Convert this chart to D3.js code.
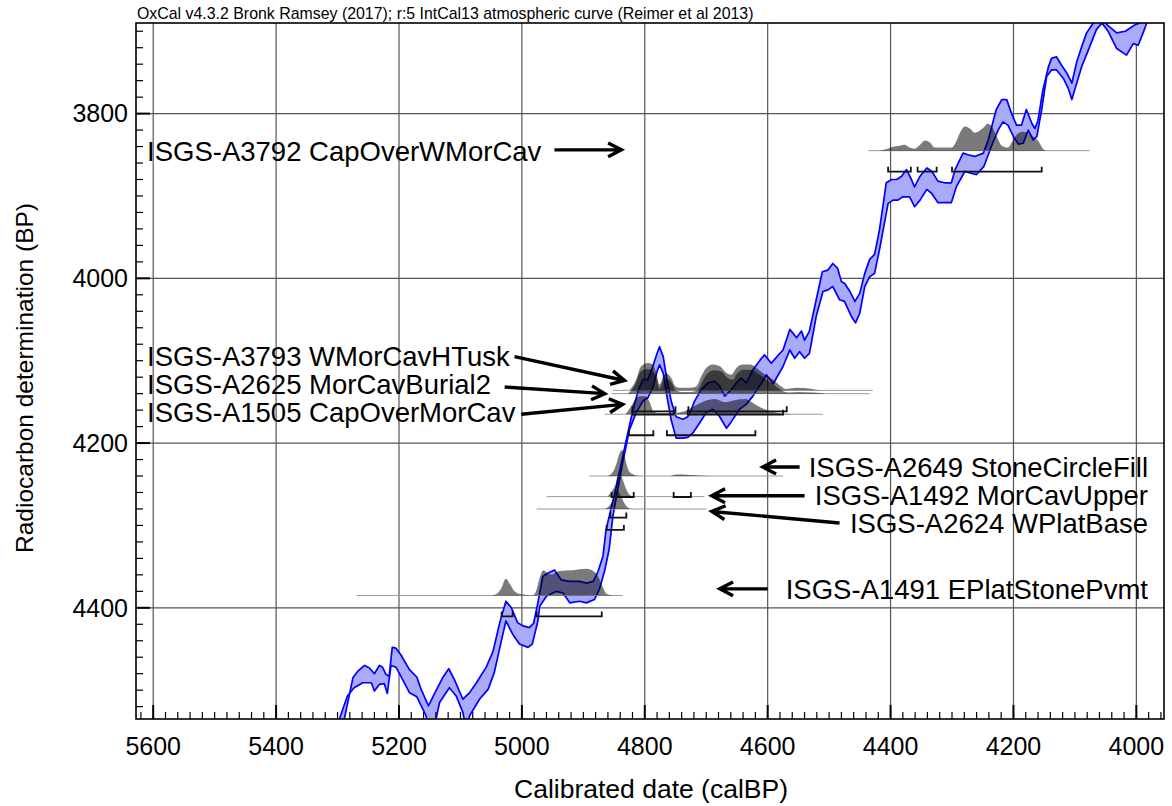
<!DOCTYPE html>
<html><head><meta charset="utf-8">
<script src="https://cdn.jsdelivr.net/npm/d3@7"></script>
<style>body{margin:0;background:#fff} svg{display:block} text{font-family:"Liberation Sans",Arial,Helvetica,sans-serif}</style>
</head><body><svg id="c" width="1172" height="806"></svg>
<script>
// ---------------- data ----------------
const chartTitle = "OxCal v4.3.2 Bronk Ramsey (2017); r:5 IntCal13 atmospheric curve (Reimer et al 2013)";
const xTitle = "Calibrated date (calBP)";
const yTitle = "Radiocarbon determination (BP)";
const xMajorTicks = [5600, 5400, 5200, 5000, 4800, 4600, 4400, 4200, 4000];
const yMajorTicks = [3800, 4000, 4200, 4400];

// IntCal13 1-sigma band, upper edge (younger BP) and lower edge, [calBP, BP]
const curveUpper = [[5293,4550],[5289,4535],[5275,4485],[5267,4477],[5256,4470],[5248,4473],[5240,4480],[5232,4470],[5227,4472],[5221,4481],[5216,4483],[5211,4448],[5205,4449],[5197,4457],[5183,4475],[5171,4484],[5164,4499],[5152,4519],[5140,4501],[5129,4485],[5119,4474],[5110,4487],[5096,4511],[5085,4503],[5074,4491],[5058,4472],[5047,4453],[5036,4418],[5026,4392],[5017,4400],[5007,4418],[4998,4422],[4988,4424],[4981,4419],[4974,4394],[4966,4362],[4958,4358],[4947,4354],[4936,4366],[4922,4368],[4906,4368],[4895,4370],[4884,4368],[4876,4356],[4868,4337],[4863,4305],[4846,4252],[4830,4196],[4819,4159],[4811,4137],[4803,4123],[4795,4123],[4787,4107],[4780,4091],[4776,4083],[4770,4095],[4764,4123],[4757,4149],[4749,4168],[4738,4171],[4730,4168],[4724,4159],[4719,4149],[4708,4135],[4697,4127],[4686,4125],[4678,4131],[4670,4143],[4659,4135],[4651,4127],[4643,4121],[4635,4127],[4624,4111],[4610,4097],[4605,4093],[4594,4103],[4580,4091],[4575,4087],[4564,4062],[4553,4072],[4545,4064],[4540,4075],[4532,4064],[4521,4026],[4511,3992],[4502,3990],[4494,3982],[4486,3988],[4480,4004],[4475,4006],[4466,4016],[4458,4028],[4450,4018],[4442,3994],[4434,3977],[4426,3971],[4418,3941],[4407,3884],[4398,3880],[4390,3880],[4382,3876],[4374,3868],[4366,3880],[4361,3889],[4352,3876],[4341,3866],[4333,3870],[4323,3882],[4312,3884],[4301,3884],[4295,3868],[4282,3848],[4274,3850],[4263,3852],[4249,3848],[4241,3832],[4228,3795],[4219,3783],[4211,3783],[4203,3800],[4195,3814],[4187,3814],[4179,3795],[4170,3812],[4165,3818],[4160,3808],[4152,3771],[4143,3743],[4138,3733],[4130,3731],[4122,3741],[4113,3751],[4105,3763],[4097,3737],[4089,3719],[4081,3702],[4070,3690],[4062,3674],[4048,3692],[4032,3702],[4018,3700],[4002,3692],[3994,3690],[3986,3674],[3953,3660]];
const curveLower = [[5300,4548],[5297,4535],[5284,4507],[5273,4497],[5259,4491],[5245,4491],[5240,4501],[5232,4493],[5224,4492],[5219,4504],[5213,4470],[5205,4472],[5197,4483],[5183,4503],[5171,4508],[5156,4531],[5147,4560],[5134,4515],[5118,4497],[5107,4507],[5096,4527],[5091,4548],[5085,4531],[5069,4511],[5055,4499],[5045,4479],[5034,4442],[5026,4416],[5015,4432],[5004,4444],[4990,4448],[4983,4444],[4974,4416],[4971,4398],[4960,4386],[4944,4380],[4933,4382],[4922,4394],[4906,4392],[4895,4394],[4882,4390],[4874,4378],[4865,4354],[4858,4329],[4852,4289],[4836,4224],[4825,4184],[4814,4163],[4803,4149],[4795,4145],[4787,4133],[4780,4113],[4776,4105],[4770,4115],[4764,4143],[4757,4172],[4749,4194],[4738,4194],[4730,4193],[4722,4188],[4711,4176],[4700,4163],[4689,4159],[4678,4168],[4667,4182],[4659,4174],[4646,4159],[4635,4153],[4624,4143],[4610,4127],[4602,4117],[4591,4128],[4575,4107],[4564,4087],[4556,4097],[4548,4089],[4540,4097],[4532,4091],[4521,4046],[4510,4016],[4502,4014],[4494,4010],[4483,4026],[4475,4028],[4464,4046],[4457,4054],[4450,4042],[4442,4010],[4434,3998],[4426,3994],[4418,3965],[4404,3909],[4396,3905],[4388,3905],[4380,3901],[4369,3901],[4361,3913],[4352,3905],[4341,3892],[4333,3897],[4323,3908],[4301,3908],[4293,3889],[4279,3870],[4271,3872],[4260,3874],[4248,3864],[4236,3840],[4225,3820],[4217,3810],[4209,3814],[4200,3828],[4192,3837],[4184,3836],[4176,3820],[4168,3832],[4162,3828],[4154,3795],[4146,3755],[4138,3747],[4130,3747],[4119,3757],[4111,3769],[4105,3783],[4097,3763],[4089,3743],[4076,3719],[4065,3698],[4056,3690],[4046,3700],[4032,3721],[4016,3729],[4005,3715],[3997,3717],[3989,3702],[3983,3690],[3975,3674],[3953,3660]];

// samples
const sampleNames = ["ISGS-A3792 CapOverWMorCav","ISGS-A3793 WMorCavHTusk","ISGS-A2625 MorCavBurial2","ISGS-A1505 CapOverMorCav","ISGS-A2649 StoneCircleFill","ISGS-A1492 MorCavUpper","ISGS-A2624 WPlatBase","ISGS-A1491 EPlatStonePvmt"];
const sampleBP = [3845, 4136, 4140, 4165, 4240, 4265, 4280, 4385];
const sampleSpan = [[4436,4076],[4852,4429],[4854,4434],[4865,4510],[4890,4575],[4960,4703],[4976,4699],[5269,4836]];
// calibrated probability distributions [calBP, relative probability]
const distA3792 = [[4418,0],[4409,.04],[4396,.14],[4385,.18],[4377,.21],[4369,.11],[4361,.07],[4352,.21],[4344,.36],[4336,.29],[4328,.11],[4312,.11],[4300,.11],[4294,.29],[4287,.64],[4279,.86],[4271,.79],[4263,.64],[4255,.71],[4247,.86],[4242,.96],[4235,.86],[4227,.5],[4219,.18],[4209,.11],[4201,.36],[4193,.61],[4185,.68],[4177,.64],[4168,.5],[4160,.36],[4152,.07],[4147,0]];
const distA3793 = [[4825,0],[4814,.38],[4806,.86],[4795,.98],[4787,.92],[4781,.6],[4776,.2],[4770,.5],[4765,.6],[4757,.44],[4750,.14],[4743,.09],[4727,.09],[4716,.14],[4708,.5],[4700,.8],[4689,.92],[4678,.86],[4667,.62],[4659,.56],[4651,.8],[4640,.92],[4629,.92],[4618,.8],[4608,.62],[4591,.38],[4578,.14],[4570,.05],[4553,.09],[4527,.05],[4515,0]];
const distA2625 = [[4828,0],[4816,.3],[4807,.78],[4796,.88],[4788,.84],[4781,.55],[4776,.18],[4770,.45],[4764,.55],[4756,.38],[4749,.1],[4740,.06],[4725,.06],[4714,.12],[4706,.45],[4697,.74],[4687,.84],[4676,.8],[4665,.56],[4657,.5],[4649,.74],[4638,.85],[4627,.85],[4616,.72],[4605,.55],[4589,.3],[4576,.1],[4566,.04],[4550,.06],[4525,.04],[4505,0]];
const distA1505 = [[4831,0],[4822,.29],[4815,.54],[4808,.64],[4799,.64],[4792,.43],[4786,.11],[4776,.04],[4760,.04],[4735,.11],[4719,.29],[4703,.46],[4686,.54],[4670,.43],[4654,.5],[4637,.54],[4621,.36],[4605,.18],[4589,.07],[4572,.02],[4548,0]];
const distA2649 = [[4860,0],[4852,.14],[4846,.45],[4841,.81],[4837,.93],[4833,.75],[4830,.45],[4825,.15],[4817,.04],[4808,0],[4760,0],[4748,.05],[4727,.04],[4711,.02],[4694,0]];
const distA1492 = [[4861,0],[4852,.25],[4847,.49],[4844,.79],[4840,.85],[4836,.61],[4830,.25],[4825,.07],[4817,0]];
const distA2624 = [[4867,0],[4863,.02],[4855,.2],[4849,.5],[4845,.68],[4841,.56],[4836,.32],[4829,.08],[4825,.02],[4820,0]];
const distA1491 = [[5049,0],[5042,.04],[5034,.24],[5026,.6],[5019,.39],[5012,.15],[5001,.04],[4982,.01],[4977,.15],[4971,.63],[4965,.9],[4959,.81],[4952,.75],[4939,.87],[4917,.9],[4895,.95],[4884,.87],[4876,.69],[4868,.28],[4863,.07],[4854,.01],[4847,0]];
const sampleDists = [distA3792, distA3793, distA2625, distA1505, distA2649, distA1492, distA2624, distA1491];
// 95.4% ranges [from, to] calBP
const sampleRanges = [[[4404,4367],[4356,4325],[4300,4154]],[[4820,4750],[4729,4569]],[[4820,4753],[4730,4575]],[[4826,4786],[4764,4620]],[[4854,4818],[4753,4725]],[[4856,4830]],[[4862,4834]],[[5033,5015],[4976,4870]]];
// label anchors [calBP, BP] and side, arrows [tail calBP, tail BP, tip calBP, tip BP]
const labelAnchor = [[5610,3845],[5610,4095],[5610,4129],[5610,4163],[3981,4229],[3981,4263],[3981,4297],[3981,4377]];
const labelSide = ["start","start","start","start","end","end","end","end"];
const arrows = [[4947,3844,4838,3844],[5012,4095,4833,4124],[5028,4132,4865,4140],[5001,4165,4836,4153],[4548,4229,4608,4229],[4540,4264,4691,4264],[4483,4297,4691,4283],[4600,4377,4678,4377]];

// ---------------- drawing ----------------
const svg = d3.select("#c");
const L = 136, R = 1164, T = 23, B = 719;
const x = d3.scaleLinear().domain([5628, 3955]).range([L, R]);
const y = d3.scaleLinear().domain([3690, 4535]).range([T, B]);
const h = d3.scaleLinear().domain([0, 1]).range([0, 28]);

svg.append("defs").append("clipPath").attr("id","clip").append("rect")
  .attr("x",L).attr("y",T).attr("width",R-L).attr("height",B-T);

// gridlines
const grid = svg.append("g").attr("stroke","#555").attr("stroke-width",1.2);
grid.selectAll("line.v").data(xMajorTicks).join("line")
  .attr("x1",d=>x(d)).attr("x2",d=>x(d)).attr("y1",T).attr("y2",B);
grid.selectAll("line.h").data(yMajorTicks).join("line")
  .attr("x1",L).attr("x2",R).attr("y1",d=>y(d)).attr("y2",d=>y(d));

const plot = svg.append("g").attr("clip-path","url(#clip)");

// calibration curve band
const ln = d3.line().x(d=>x(d[0])).y(d=>y(d[1]));
plot.append("path").attr("d", ln(curveUpper.concat(curveLower.slice().reverse())) + "Z")
  .attr("fill","#aaaafb").attr("stroke","none");
plot.append("path").attr("d", ln(curveUpper)).attr("fill","none").attr("stroke","#0000ff").attr("stroke-width",1.7).attr("stroke-linejoin","round");
plot.append("path").attr("d", ln(curveLower)).attr("fill","none").attr("stroke","#0000ff").attr("stroke-width",1.7).attr("stroke-linejoin","round");

// baselines
plot.selectAll("line.base").data(sampleBP).join("line")
  .attr("x1",(d,i)=>x(sampleSpan[i][0])).attr("x2",(d,i)=>x(sampleSpan[i][1]))
  .attr("y1",d=>y(d)).attr("y2",d=>y(d)).attr("stroke","#9a9a9a").attr("stroke-width",1);

// distributions
sampleDists.forEach((dist,i)=>{
  const base = y(sampleBP[i]);
  const area = d3.area().x(d=>x(d[0])).y0(base).y1(d=>base - h(d[1])).curve(d3.curveMonotoneX);
  plot.append("path").attr("d", area(dist)).attr("fill","rgba(0,0,0,0.52)");
});

// ranges (brackets)
sampleRanges.forEach((rs,i)=>{
  const by = y(sampleBP[i]) + 21;
  rs.forEach(r=>{
    const x1 = x(r[0]), x2 = x(r[1]);
    plot.append("path").attr("d",`M${x1},${by-5}V${by}H${x2}V${by-5}`)
      .attr("fill","none").attr("stroke","#111").attr("stroke-width",1.8);
  });
});

// frame
svg.append("rect").attr("x",L).attr("y",T).attr("width",R-L).attr("height",B-T)
  .attr("fill","none").attr("stroke","#000").attr("stroke-width",1.6);

// axes ticks
const xMinor = d3.range(5620, 3955, -20);
const yMinor = d3.range(3700, 4535, 20);
const ax = svg.append("g").attr("stroke","#000");
ax.selectAll("line.xm").data(xMinor).join("line")
  .attr("x1",d=>x(d)).attr("x2",d=>x(d)).attr("y1",B).attr("y2",d=>d%200===0?B-14:B-7).attr("stroke-width",d=>d%200===0?2:1.2);
ax.selectAll("line.ym").data(yMinor).join("line")
  .attr("y1",d=>y(d)).attr("y2",d=>y(d)).attr("x1",L).attr("x2",d=>d%200===0?L+14:L+7).attr("stroke-width",d=>d%200===0?2:1.2);

svg.selectAll("text.xt").data(xMajorTicks).join("text")
  .attr("x",d=>x(d)).attr("y",B+36).attr("text-anchor","middle").attr("font-size",25).text(d=>d);
svg.selectAll("text.yt").data(yMajorTicks).join("text")
  .attr("x",L-8).attr("y",d=>y(d)).attr("dy","0.35em").attr("text-anchor","end").attr("font-size",25).text(d=>d);

// titles
svg.append("text").attr("x",L+1).attr("y",T-4).attr("font-size",15.9).text(chartTitle);
svg.append("text").attr("x",651).attr("y",798).attr("text-anchor","middle").attr("font-size",26.5).text(xTitle);
svg.append("text").attr("transform","translate(33,378) rotate(-90)").attr("text-anchor","middle").attr("font-size",24.5).text(yTitle);

// labels
svg.selectAll("text.lab").data(sampleNames).join("text")
  .attr("x",(d,i)=>x(labelAnchor[i][0])).attr("y",(d,i)=>y(labelAnchor[i][1])).attr("dy","0.36em")
  .attr("text-anchor",(d,i)=>labelSide[i]).attr("font-size",27.5).text(d=>d);

// arrows
arrows.forEach(a=>{
  const x0=x(a[0]), y0=y(a[1]), x1=x(a[2]), y1=y(a[3]);
  const ang = Math.atan2(y1-y0, x1-x0), len=15, spread=0.48;
  const p1=[x1-len*Math.cos(ang-spread), y1-len*Math.sin(ang-spread)];
  const p2=[x1-len*Math.cos(ang+spread), y1-len*Math.sin(ang+spread)];
  svg.append("path").attr("d",`M${x0},${y0}L${x1},${y1}M${p1[0]},${p1[1]}L${x1},${y1}L${p2[0]},${p2[1]}`)
    .attr("fill","none").attr("stroke","#000").attr("stroke-width",3.4).attr("stroke-linecap","butt").attr("stroke-linejoin","miter");
});
</script></body></html>
